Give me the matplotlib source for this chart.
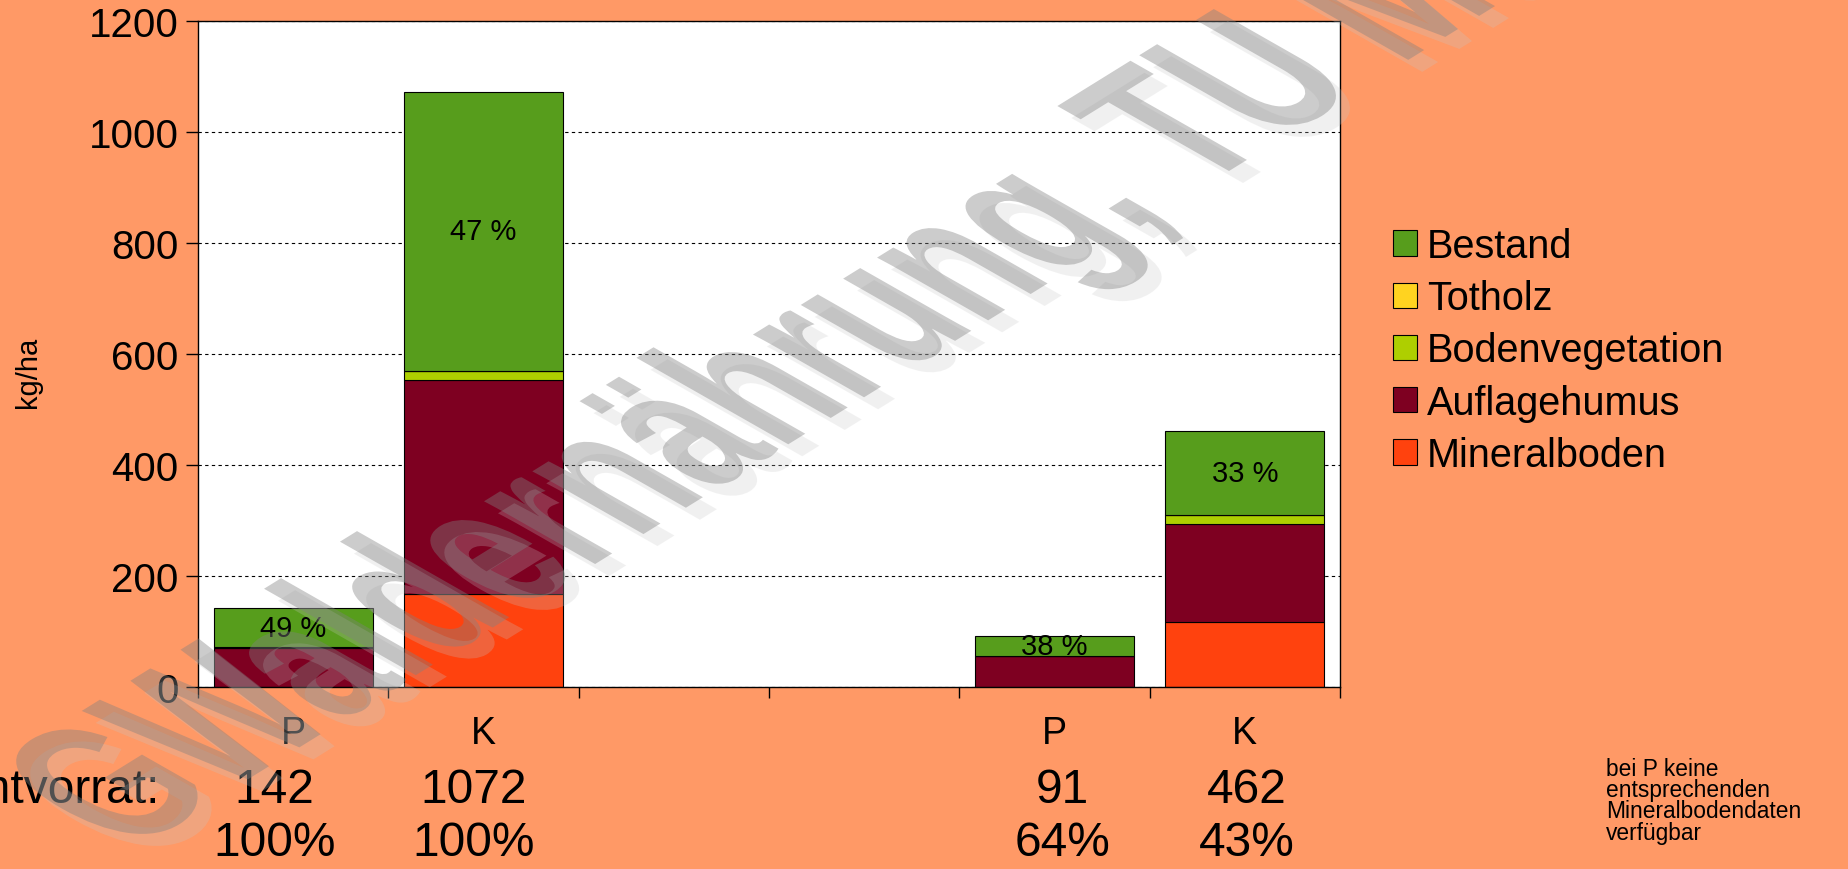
import matplotlib
matplotlib.use("agg")
import matplotlib.pyplot as plt
from matplotlib.font_manager import FontProperties
from matplotlib.textpath import TextPath, text_to_path
from matplotlib.patches import PathPatch, Patch
from matplotlib.transforms import Affine2D

plt.rcParams['font.family'] = ['Liberation Sans', 'DejaVu Sans']

# six slots on the x axis, the two middle ones stay empty
slot_labels = ['P', 'K', '', '', 'P', 'K']
layer_names = ['Mineralboden', 'Auflagehumus', 'Bodenvegetation', 'Totholz', 'Bestand']
mineralboden = [0, 168, 0, 0, 0, 117]
auflagehumus = [70, 385, 0, 0, 55, 176]
bodenvegetation = [2, 17, 0, 0, 1, 17]
totholz = [0, 0, 0, 0, 0, 0]
bestand = [70, 502, 0, 0, 35, 152]
layer_colors = ['#FF420E', '#7E0021', '#AECF00', '#FFD320', '#579D1C']

note_lines = ['bei P keine', 'entsprechenden', 'Mineralbodendaten', 'verfügbar']

BG = '#FF9966'
W, H = 1848, 870

fig = plt.figure(figsize=(W / 100, H / 100), dpi=100, facecolor=BG)
ax = fig.add_axes([198 / W, 182 / H, 1142 / W, 666 / H])
ax.set_facecolor('white')

layers = [mineralboden, auflagehumus, bodenvegetation, totholz, bestand]
totals = [sum(v) for v in zip(*layers)]
used = [i for i, t in enumerate(totals) if t > 0]

bottom = [0] * len(slot_labels)
for name, vals, col in zip(layer_names, layers, layer_colors):
    ax.bar(used, [vals[i] for i in used], bottom=[bottom[i] for i in used],
           width=0.835, color=col, edgecolor='black', linewidth=0.8, zorder=2)
    bottom = [b + v for b, v in zip(bottom, vals)]

# share of the stand in every column, written into the green segment
for i in used:
    base = totals[i] - bestand[i]
    pct = round(100 * bestand[i] / totals[i])
    ax.text(i, base + bestand[i] / 2, f'{pct} %', ha='center', va='center',
            fontsize=21, zorder=3)

ax.set_xlim(-0.5, len(slot_labels) - 0.5)
ax.set_ylim(0, 1200)
ax.set_yticks(range(0, 1201, 200))
ax.set_xticks([k - 0.5 for k in range(len(slot_labels) + 1)])
ax.set_xticklabels([])
ax.set_xticks(range(len(slot_labels)), minor=True)
ax.set_xticklabels(slot_labels, minor=True)
ax.tick_params(axis='x', which='major', direction='out', length=8, width=1)
ax.tick_params(axis='x', which='minor', length=0, pad=20, labelsize=27)
ax.tick_params(axis='y', direction='out', length=9, width=1, pad=5, labelsize=29)
ax.yaxis.grid(True, linestyle=(0, (3, 3)), color='black', linewidth=0.8)
ax.set_axisbelow(True)
for sp in ax.spines.values():
    sp.set_linewidth(1.0)

fig.text(28 / W, 1 - 372 / H, 'kg/ha', rotation=90, ha='center', va='center', fontsize=21)

# totals and their share of the first P / K column
first = {}
for i in used:
    first.setdefault(slot_labels[i], totals[i])
shift = [-19, -10, 0, 0, 8, 2]
fig.text(160 / W, 1 - 803 / H, 'Gesamtvorrat:', ha='right', va='baseline', fontsize=34.5)
for i in used:
    xpx = ax.transData.transform((i, 0))[0] + shift[i]
    share = round(100 * totals[i] / first[slot_labels[i]])
    fig.text(xpx / W, 1 - 803 / H, f'{totals[i]}', ha='center', va='baseline', fontsize=34.5)
    fig.text(xpx / W, 1 - 856 / H, f'{share}%', ha='center', va='baseline', fontsize=34.5)

handles = [Patch(facecolor=c, edgecolor='black', linewidth=0.8) for c in layer_colors][::-1]
fig.legend(handles, layer_names[::-1], loc='upper left', bbox_to_anchor=(1393 / W, 1 - 228 / H),
           frameon=False, fontsize=28.5, borderpad=0, borderaxespad=0, labelspacing=0.36,
           handlelength=0.6, handleheight=0.6, handletextpad=0.25)

# side note, one line at a time to keep the lines tight
for k, line in enumerate(note_lines):
    fig.text(1606 / W, 1 - (776 + 21.2 * k) / H, line, ha='left', va='baseline', fontsize=16.4)

# diagonal watermark on top of everything: bold text, slanted along ~32 deg
wm_size = 180
wm_prop = FontProperties(family='Liberation Sans', weight='bold', size=wm_size)
wm_text = 'GWaldernährung, TU München'
lead_w = text_to_path.get_text_width_height_descent('GWaldernährung, ', wm_prop, ismath=False)[0]
wm_path = TextPath((0, 0), wm_text, prop=wm_prop)
adv, up = 146 / wm_size, 241 / wm_size
skew = Affine2D().translate(-lead_w, 0) + Affine2D.from_values(
    0.850 * adv, 0.527 * adv, -0.869 * up, 0.495 * up, 1200, 680)
wm_path = skew.transform_path(wm_path)

over = fig.add_axes([0, 0, 1, 1], zorder=10)
over.set_xlim(0, W)
over.set_ylim(0, H)
over.axis('off')
over.patch.set_alpha(0)
shadow = Affine2D().translate(14, -12).transform_path(wm_path)
over.add_patch(PathPatch(shadow, facecolor=(0.78, 0.78, 0.78, 0.25), linewidth=0))
over.add_patch(PathPatch(wm_path, facecolor=(0.5, 0.5, 0.5, 0.4), linewidth=0))

fig.savefig('out.png', dpi=100, facecolor=BG)
